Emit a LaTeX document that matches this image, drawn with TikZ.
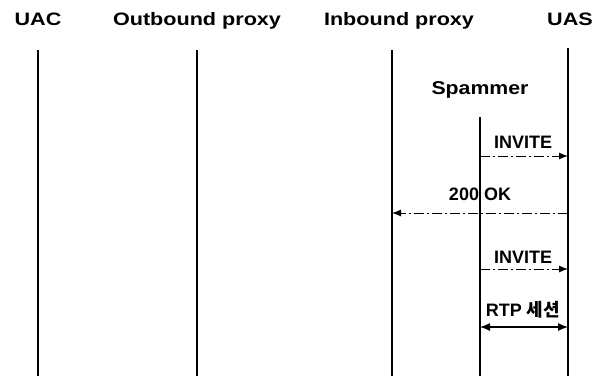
\documentclass[tikz,border=0pt]{standalone}
\usepackage{fontspec}
\setmainfont{Liberation Sans}
\newfontfamily\krfont{Noto Sans CJK KR}
\usetikzlibrary{arrows.meta}
\tikzset{
  hdr/.style={font=\fontsize{18}{20}\selectfont\bfseries, anchor=base, inner sep=0pt},
  lbl/.style={font=\fontsize{18}{20}\selectfont\bfseries, anchor=base, inner sep=0pt},
  life/.style={line width=1.6pt},
  msg/.style={line width=1pt, dash pattern=on 10pt off 3pt on 2pt off 3pt, -{Latex[length=9pt,width=7pt]}},
  rtp/.style={line width=1.2pt, {Latex[length=10pt,width=8pt]}-{Latex[length=10pt,width=8pt]}}
}
\begin{document}
\begin{tikzpicture}[x=1pt,y=-1pt]
\useasboundingbox (0,0) rectangle (601,376);
% headers
\node[hdr] (uac) at (38,25.5) {\scalebox{1.2}[1]{UAC}};
\node[hdr] (obp) at (197,25.5) {\scalebox{1.2}[1]{Outbound proxy}};
\node[hdr] (ibp) at (399,25.5) {\scalebox{1.2}[1]{Inbound proxy}};
\node[hdr] (uas) at (570,25.5) {\scalebox{1.2}[1]{UAS}};
\node[lbl] (spam) at (480,94.3) {\fontsize{18.5}{20}\selectfont\scalebox{1.15}[1]{Spammer}};
% lifelines
\coordinate (uacT) at (38,50);  \coordinate (uacB) at (38,376);
\coordinate (obpT) at (197,50); \coordinate (obpB) at (197,376);
\coordinate (ibpT) at (392,50); \coordinate (ibpB) at (392,376);
\coordinate (uasT) at (568,48); \coordinate (uasB) at (568,376);
\coordinate (spT) at (480,117); \coordinate (spB) at (480,376);
\draw[life] (uacT) -- (uacB);
\draw[life] (obpT) -- (obpB);
\draw[life] (ibpT) -- (ibpB);
\draw[life] (uasT) -- (uasB);
\draw[life] (spT) -- (spB);
% messages
\coordinate (m1a) at (480,156); \coordinate (m1b) at (568,156);
\coordinate (m2a) at (568,213); \coordinate (m2b) at (392,213);
\coordinate (m3a) at (480,269); \coordinate (m3b) at (568,269);
\coordinate (m4a) at (480,327); \coordinate (m4b) at (568,327);
\draw[msg] (m1a) -- (m1b);
\draw[msg] (m2a) -- (m2b);
\draw[msg] (m3a) -- (m3b);
\draw[rtp] (m4a) -- (m4b);
\node[lbl] (inv1) at (523,148) {INVITE};
\node[lbl] (ok) at (480,200) {200 OK};
\node[lbl] (inv2) at (523,263) {INVITE};
\node[lbl] (rtpl) at (523,316) {RTP {\krfont\bfseries 세션}};
\end{tikzpicture}
\end{document}
